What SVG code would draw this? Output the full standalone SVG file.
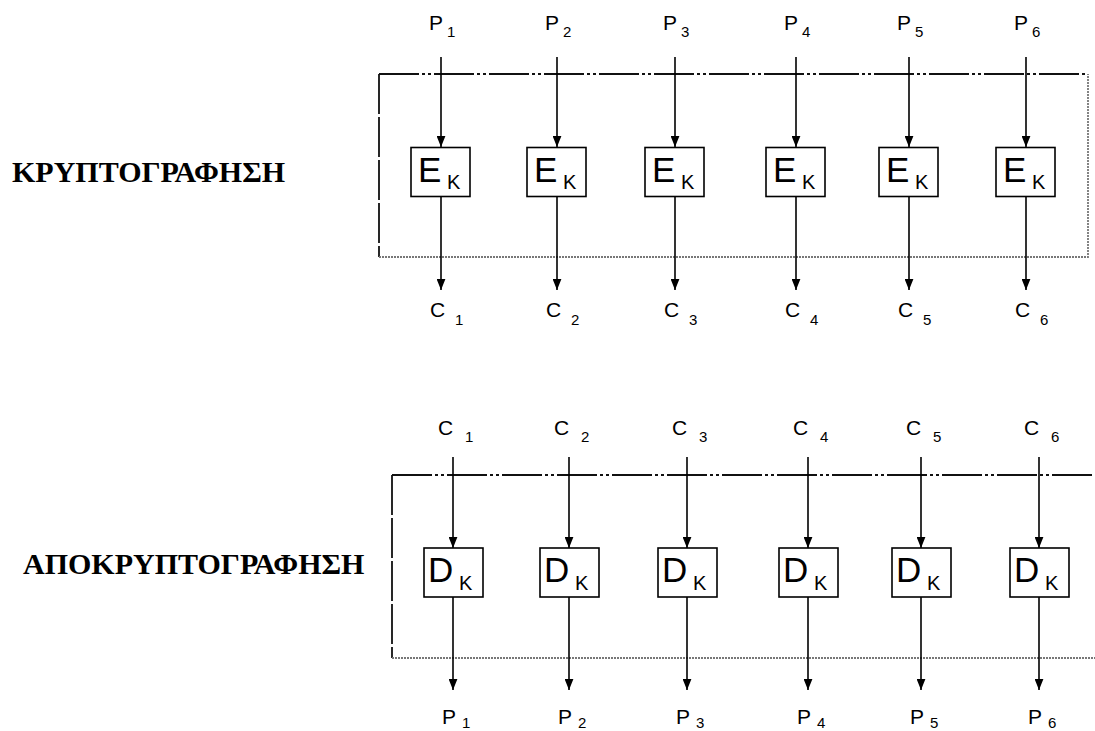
<svg xmlns="http://www.w3.org/2000/svg" width="1095" height="731" viewBox="0 0 1095 731">
<defs>
<style>
.bg{fill:#fff}
.box{fill:#fff;stroke:#000;stroke-width:1.6}
.arr{stroke:#000;stroke-width:1.6;fill:none;marker-end:url(#ah)}
.fr-dd{stroke:#111;stroke-width:1.8;fill:none;stroke-dasharray:40,3,3,3,3,3}
.fr-l{stroke:#111;stroke-width:1.8;fill:none;stroke-dasharray:40,3}
.fr-dot{stroke:#777;stroke-width:1.8;fill:none;stroke-dasharray:2,1}
.lbl{font-family:"Liberation Sans",Arial,sans-serif;font-size:21px;fill:#000}
.sub{font-family:"Liberation Sans",Arial,sans-serif;font-size:15px;fill:#000}
.big{font-family:"Liberation Sans",Arial,sans-serif;font-size:35px;fill:#000}
.k{font-family:"Liberation Sans",Arial,sans-serif;font-size:20px;fill:#000}
.title{font-family:"Liberation Serif","Times New Roman",serif;font-size:30px;font-weight:bold;fill:#000}
</style>
<marker id="ah" viewBox="0 0 10 8" refX="10" refY="4" markerWidth="11" markerHeight="9" markerUnits="userSpaceOnUse" orient="auto">
<path d="M0,0 L10,4 L0,8 z" fill="#000"/>
</marker>
</defs>
<rect class="bg" x="0" y="0" width="1095" height="731"/>

<text class="title" x="12" y="182">ΚΡΥΠΤΟΓΡΑΦΗΣΗ</text>
<text class="title" x="23" y="574">ΑΠΟΚΡΥΠΤΟΓΡΑΦΗΣΗ</text>

<g id="frames">
<path class="fr-dd" d="M379,74 H1088"/>
<path class="fr-l" d="M379,74 V257"/>
<path class="fr-dot" d="M379,257 H1088 V74"/>
<path class="fr-dd" d="M392,475 H1095"/>
<path class="fr-l" d="M392,475 V658"/>
<path class="fr-dot" d="M392,658 H1095"/>
</g>

<g id="connectors">
<line class="arr" x1="441" y1="57" x2="441" y2="147"/>
<line class="arr" x1="557" y1="57" x2="557" y2="147"/>
<line class="arr" x1="675" y1="57" x2="675" y2="147"/>
<line class="arr" x1="796" y1="57" x2="796" y2="147"/>
<line class="arr" x1="909" y1="57" x2="909" y2="147"/>
<line class="arr" x1="1026" y1="57" x2="1026" y2="147"/>
<line class="arr" x1="441" y1="197" x2="441" y2="290"/>
<line class="arr" x1="557" y1="197" x2="557" y2="290"/>
<line class="arr" x1="675" y1="197" x2="675" y2="290"/>
<line class="arr" x1="796" y1="197" x2="796" y2="290"/>
<line class="arr" x1="909" y1="197" x2="909" y2="290"/>
<line class="arr" x1="1026" y1="197" x2="1026" y2="290"/>
<line class="arr" x1="453" y1="457" x2="453" y2="548"/>
<line class="arr" x1="569" y1="457" x2="569" y2="548"/>
<line class="arr" x1="687" y1="457" x2="687" y2="548"/>
<line class="arr" x1="808" y1="457" x2="808" y2="548"/>
<line class="arr" x1="921" y1="457" x2="921" y2="548"/>
<line class="arr" x1="1039" y1="457" x2="1039" y2="548"/>
<line class="arr" x1="453" y1="597" x2="453" y2="690"/>
<line class="arr" x1="569" y1="597" x2="569" y2="690"/>
<line class="arr" x1="687" y1="597" x2="687" y2="690"/>
<line class="arr" x1="808" y1="597" x2="808" y2="690"/>
<line class="arr" x1="921" y1="597" x2="921" y2="690"/>
<line class="arr" x1="1039" y1="597" x2="1039" y2="690"/>
</g>

<g id="labels-top">
<text class="lbl" x="429" y="30">P</text><text class="sub" x="447" y="37">1</text>
<text class="lbl" x="545" y="30">P</text><text class="sub" x="563" y="37">2</text>
<text class="lbl" x="663" y="30">P</text><text class="sub" x="681" y="37">3</text>
<text class="lbl" x="784" y="30">P</text><text class="sub" x="802" y="37">4</text>
<text class="lbl" x="897" y="30">P</text><text class="sub" x="915" y="37">5</text>
<text class="lbl" x="1014" y="30">P</text><text class="sub" x="1032" y="37">6</text>
<text class="lbl" x="430" y="317">C</text><text class="sub" x="455" y="325">1</text>
<text class="lbl" x="546" y="317">C</text><text class="sub" x="571" y="325">2</text>
<text class="lbl" x="664" y="317">C</text><text class="sub" x="689" y="325">3</text>
<text class="lbl" x="785" y="317">C</text><text class="sub" x="810" y="325">4</text>
<text class="lbl" x="898" y="317">C</text><text class="sub" x="923" y="325">5</text>
<text class="lbl" x="1015" y="317">C</text><text class="sub" x="1040" y="325">6</text>
</g>

<g id="E1"><rect class="box" x="411" y="147.5" width="59" height="49"/><text class="big" x="418" y="182">E</text><text class="k" x="447" y="189">K</text></g>
<g id="E2"><rect class="box" x="527" y="147.5" width="59" height="49"/><text class="big" x="534" y="182">E</text><text class="k" x="563" y="189">K</text></g>
<g id="E3"><rect class="box" x="645" y="147.5" width="59" height="49"/><text class="big" x="652" y="182">E</text><text class="k" x="681" y="189">K</text></g>
<g id="E4"><rect class="box" x="766" y="147.5" width="59" height="49"/><text class="big" x="773" y="182">E</text><text class="k" x="802" y="189">K</text></g>
<g id="E5"><rect class="box" x="879" y="147.5" width="59" height="49"/><text class="big" x="886" y="182">E</text><text class="k" x="915" y="189">K</text></g>
<g id="E6"><rect class="box" x="996" y="147.5" width="59" height="49"/><text class="big" x="1003" y="182">E</text><text class="k" x="1032" y="189">K</text></g>

<g id="labels-bottom">
<text class="lbl" x="438" y="435">C</text><text class="sub" x="465" y="442">1</text>
<text class="lbl" x="554" y="435">C</text><text class="sub" x="581" y="442">2</text>
<text class="lbl" x="672" y="435">C</text><text class="sub" x="699" y="442">3</text>
<text class="lbl" x="793" y="435">C</text><text class="sub" x="820" y="442">4</text>
<text class="lbl" x="906" y="435">C</text><text class="sub" x="933" y="442">5</text>
<text class="lbl" x="1024" y="435">C</text><text class="sub" x="1051" y="442">6</text>
<text class="lbl" x="442" y="724">P</text><text class="sub" x="462" y="728">1</text>
<text class="lbl" x="558" y="724">P</text><text class="sub" x="578" y="728">2</text>
<text class="lbl" x="676" y="724">P</text><text class="sub" x="696" y="728">3</text>
<text class="lbl" x="797" y="724">P</text><text class="sub" x="817" y="728">4</text>
<text class="lbl" x="910" y="724">P</text><text class="sub" x="930" y="728">5</text>
<text class="lbl" x="1028" y="724">P</text><text class="sub" x="1048" y="728">6</text>
</g>

<g id="D1"><rect class="box" x="424" y="548" width="59" height="49"/><text class="big" x="428" y="582">D</text><text class="k" x="459" y="590">K</text></g>
<g id="D2"><rect class="box" x="540" y="548" width="59" height="49"/><text class="big" x="544" y="582">D</text><text class="k" x="575" y="590">K</text></g>
<g id="D3"><rect class="box" x="658" y="548" width="59" height="49"/><text class="big" x="662" y="582">D</text><text class="k" x="693" y="590">K</text></g>
<g id="D4"><rect class="box" x="779" y="548" width="59" height="49"/><text class="big" x="783" y="582">D</text><text class="k" x="814" y="590">K</text></g>
<g id="D5"><rect class="box" x="892" y="548" width="59" height="49"/><text class="big" x="896" y="582">D</text><text class="k" x="927" y="590">K</text></g>
<g id="D6"><rect class="box" x="1010" y="548" width="59" height="49"/><text class="big" x="1014" y="582">D</text><text class="k" x="1045" y="590">K</text></g>
</svg>
